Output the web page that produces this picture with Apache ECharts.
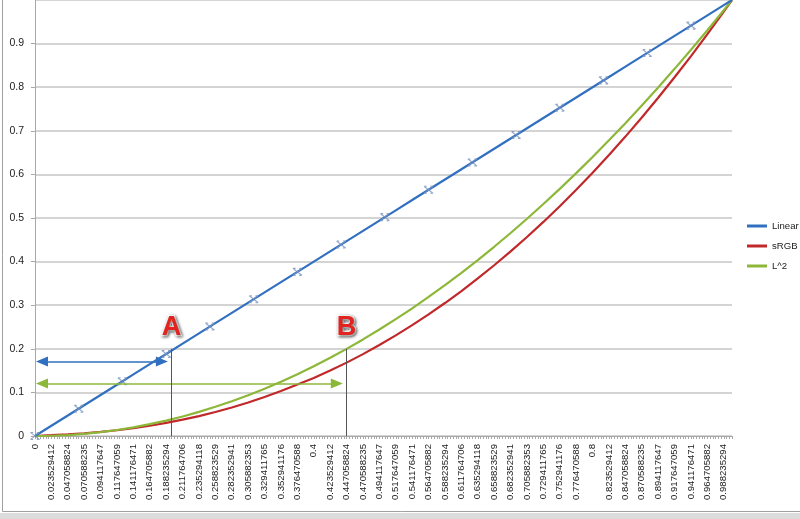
<!DOCTYPE html>
<html>
<head>
<meta charset="utf-8">
<script src="https://cdn.jsdelivr.net/npm/echarts@6/dist/echarts.min.js"></script>
<style>
html,body{margin:0;padding:0;background:#fff;}
#chart{width:800px;height:519px;}
</style>
</head>
<body>
<div id="chart"></div>
<script>
// ---- data ----
const tickLabels = ["0","0.023529412","0.047058824","0.070588235","0.094117647","0.117647059","0.141176471","0.164705882","0.188235294","0.211764706","0.235294118","0.258823529","0.282352941","0.305882353","0.329411765","0.352941176","0.376470588","0.4","0.423529412","0.447058824","0.470588235","0.494117647","0.517647059","0.541176471","0.564705882","0.588235294","0.611764706","0.635294118","0.658823529","0.682352941","0.705882353","0.729411765","0.752941176","0.776470588","0.8","0.823529412","0.847058824","0.870588235","0.894117647","0.917647059","0.941176471","0.964705882","0.988235294"];
const xValues = [0,0.0235,0.0471,0.0706,0.0941,0.1176,0.1412,0.1647,0.1882,0.2118,0.2353,0.2588,0.2824,0.3059,0.3294,0.3529,0.3765,0.4,0.4235,0.4471,0.4706,0.4941,0.5176,0.5412,0.5647,0.5882,0.6118,0.6353,0.6588,0.6824,0.7059,0.7294,0.7529,0.7765,0.8,0.8235,0.8471,0.8706,0.8941,0.9176,0.9412,0.9647,0.9882,1];
const linearVals = [0,0.0235,0.0471,0.0706,0.0941,0.1176,0.1412,0.1647,0.1882,0.2118,0.2353,0.2588,0.2824,0.3059,0.3294,0.3529,0.3765,0.4,0.4235,0.4471,0.4706,0.4941,0.5176,0.5412,0.5647,0.5882,0.6118,0.6353,0.6588,0.6824,0.7059,0.7294,0.7529,0.7765,0.8,0.8235,0.8471,0.8706,0.8941,0.9176,0.9412,0.9647,0.9882,1];
const srgbVals = [0,0.0018,0.0037,0.0062,0.0094,0.0132,0.0180,0.0235,0.0300,0.0374,0.0457,0.0551,0.0655,0.0770,0.0895,0.1031,0.1179,0.1329,0.1500,0.1683,0.1878,0.2086,0.2308,0.2542,0.2789,0.3050,0.3325,0.3613,0.3916,0.4233,0.4564,0.4910,0.5271,0.5647,0.6038,0.6445,0.6867,0.7305,0.7759,0.8228,0.8714,0.9216,0.9735,1];
const lsqVals = [0,0.0006,0.0022,0.0050,0.0089,0.0138,0.0199,0.0271,0.0354,0.0448,0.0554,0.0670,0.0797,0.0936,0.1085,0.1246,0.1417,0.16,0.1794,0.1999,0.2215,0.2442,0.2680,0.2929,0.3189,0.3460,0.3743,0.4036,0.4340,0.4656,0.4983,0.5320,0.5669,0.6029,0.64,0.6782,0.7175,0.7579,0.7994,0.8421,0.8858,0.9307,0.9766,1];
const markerX = [0,0.0627,0.1255,0.1882,0.2510,0.3137,0.3765,0.4392,0.5020,0.5647,0.6275,0.6902,0.7529,0.8157,0.8784,0.9412];
const markerY = [0,0.0627,0.1255,0.1882,0.2510,0.3137,0.3765,0.4392,0.5020,0.5647,0.6275,0.6902,0.7529,0.8157,0.8784,0.9412];
const seriesNames = ["Linear","sRGB","L^2"];
const yTicks = [0,0.1,0.2,0.3,0.4,0.5,0.6,0.7,0.8,0.9,1];
// annotation anchors (data coordinates)
const arrowA = {y:0.171, x0:0.010, x1:0.182};
const arrowB = {y:0.1205, x0:0.010, x1:0.433};
const guideA = {x:0.195, y:0.2};
const guideB = {x:0.447, y:0.2};
const labelA = {x:0.196, y:0.248, text:"A"};
const labelB = {x:0.447, y:0.248, text:"B"};

const colors = {linear:"#3170c0", srgb:"#c0282a", lsq:"#8db738"};
const pair = (xs, ys) => xs.map((x,i)=>[x, ys[i]]);
const step = 6/255;

const chart = echarts.init(document.getElementById('chart'), null, {renderer:'canvas'});
const labelStyle = {fontSize:27, fontWeight:'bold', fontFamily:'Liberation Sans, Arial, sans-serif', color:'#e3231f',
  textBorderColor:'#ffffff', textBorderWidth:2.5, textShadowColor:'rgba(0,0,0,0.55)', textShadowBlur:3, textShadowOffsetX:1, textShadowOffsetY:1};

const option = {
  animation:false,
  backgroundColor:'#ffffff',
  grid:{left:35, right:68, top:-4, bottom:83, containLabel:false},
  legend:{
    data:seriesNames, orient:'vertical', left:747, top:219, padding:0, icon:'rect', itemWidth:20, itemHeight:3, itemGap:6,
    textStyle:{fontSize:9.6, color:'#222', fontFamily:'Liberation Sans, Arial, sans-serif', lineHeight:14}
  },
  xAxis:{
    type:'value', min:0, max:1, interval:step,
    axisLine:{show:true, lineStyle:{color:'#a8a8a8', width:1}},
    axisTick:{show:true, length:3, lineStyle:{color:'#a8a8a8'}},
    minorTick:{show:true, splitNumber:6, length:3, lineStyle:{color:'#a8a8a8'}},
    splitLine:{show:false},
    axisLabel:{
      rotate:90, margin:8, fontSize:9.6, color:'#222', fontFamily:'Liberation Sans, Arial, sans-serif',
      showMaxLabel:false,
      formatter:function(v){
        const i = Math.round(v/step);
        if (Math.abs(v - i*step) < 1e-6 && i < tickLabels.length) return tickLabels[i];
        return '';
      }
    }
  },
  yAxis:{
    type:'value', min:yTicks[0], max:yTicks[yTicks.length-1], interval:0.1,
    axisLine:{show:true, lineStyle:{color:'#a8a8a8', width:1}},
    axisTick:{show:true, length:4, lineStyle:{color:'#a8a8a8'}},
    splitLine:{show:true, lineStyle:{color:'#c6c6c6', width:1.5}},
    axisLabel:{margin:11, fontSize:10.5, color:'#222', fontFamily:'Liberation Sans, Arial, sans-serif', showMaxLabel:false,
      formatter:function(v){ return String(Math.round(v*10)/10); }}
  },
  series:[
    {name:seriesNames[0], type:'line', data:pair(xValues, linearVals), symbol:'none', smooth:false,
     lineStyle:{color:colors.linear, width:2.2}, itemStyle:{color:colors.linear}, z:3},
    {name:seriesNames[1], type:'line', data:pair(xValues, srgbVals), symbol:'none', smooth:false,
     lineStyle:{color:colors.srgb, width:2.2}, itemStyle:{color:colors.srgb}, z:2},
    {name:seriesNames[2], type:'line', data:pair(xValues, lsqVals), symbol:'none', smooth:false,
     lineStyle:{color:colors.lsq, width:2.2}, itemStyle:{color:colors.lsq}, z:2},
    {name:'LinearMarkers', type:'scatter', data:pair(markerX, markerY),
     symbol:'path://M0,0L10,8M10,0L0,8M0,0L3,0M7,0L10,0M0,8L3,8M7,8L10,8', symbolSize:[9,7],
     itemStyle:{color:'rgba(0,0,0,0)', borderColor:'#7592bf', borderWidth:1.2}, z:4, silent:true},
    {name:'annot', type:'line', data:[], silent:true, z:5,
     markLine:{
       silent:true, animation:false, label:{show:false}, symbol:['none','none'],
       data:[
         [{coord:[arrowA.x0, arrowA.y], symbol:'triangle', symbolSize:[10,12], lineStyle:{color:colors.linear, width:1.5, type:'solid'}, itemStyle:{color:colors.linear}},
          {coord:[arrowA.x1, arrowA.y], symbol:'triangle', symbolSize:[10,12]}],
         [{coord:[arrowB.x0, arrowB.y], symbol:'triangle', symbolSize:[10,12], lineStyle:{color:colors.lsq, width:1.5, type:'solid'}, itemStyle:{color:colors.lsq}},
          {coord:[arrowB.x1, arrowB.y], symbol:'triangle', symbolSize:[10,12]}],
         [{coord:[guideA.x, 0], symbol:'none', lineStyle:{color:'#555', width:1, type:'solid'}},
          {coord:[guideA.x, guideA.y], symbol:'none'}],
         [{coord:[guideB.x, 0], symbol:'none', lineStyle:{color:'#555', width:1, type:'solid'}},
          {coord:[guideB.x, guideB.y], symbol:'none'}]
       ]
     },
     markPoint:{
       silent:true, animation:false, symbol:'circle', symbolSize:1, itemStyle:{color:'rgba(0,0,0,0)'},
       label:Object.assign({show:true, position:'inside', formatter:function(p){return p.name;}}, labelStyle),
       data:[
         {name:labelA.text, coord:[labelA.x, labelA.y]},
         {name:labelB.text, coord:[labelB.x, labelB.y]}
       ]
     }
    }
  ],
  graphic:[
    {type:'rect', left:0, top:513, shape:{width:800, height:6}, style:{fill:'#dcdcdc'}, silent:true},
    {type:'line', shape:{x1:2.5, y1:0, x2:2.5, y2:511.5}, style:{stroke:'#a0a0a0', lineWidth:1}, silent:true},
    {type:'line', shape:{x1:2.5, y1:511.5, x2:800, y2:511.5}, style:{stroke:'#a0a0a0', lineWidth:1}, silent:true}
  ]
};
chart.setOption(option);
</script>
</body>
</html>
